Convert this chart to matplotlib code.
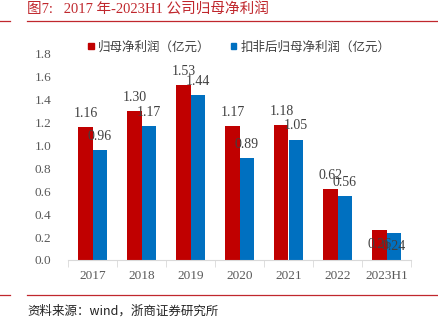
import matplotlib
matplotlib.use("Agg")
import matplotlib.pyplot as plt
from matplotlib.lines import Line2D
from matplotlib.patches import Patch

categories = ["2017", "2018", "2019", "2020", "2021", "2022", "2023H1"]
net_profit = [1.16, 1.30, 1.53, 1.17, 1.18, 0.62, 0.26]
net_profit_ex = [0.96, 1.17, 1.44, 0.89, 1.05, 0.56, 0.24]
series_names = ["归母净利润（亿元）", "扣非后归母净利润（亿元）"]
yticks = [0.0, 0.2, 0.4, 0.6, 0.8, 1.0, 1.2, 1.4, 1.6, 1.8]
title = "图7:   2017 年-2023H1 公司归母净利润"
source = "资料来源：wind，浙商证券研究所"

RED = "#C00000"
BLUE = "#0070C0"
LINE_RED = "#C0272D"
SERIF = ["Liberation Serif", "Noto Sans CJK SC"]
CJK = ["Noto Sans CJK SC", "DejaVu Sans"]

W, H = 438, 324
fig = plt.figure(figsize=(W / 100, H / 100), dpi=100)

def fx(px):
    return px / W

def fy(py):
    return 1 - py / H

# title and rules
fig.text(fx(27), fy(10), title, family=SERIF, fontsize=10.5, color=LINE_RED, va="center", ha="left")
for yy in (21, 295):
    fig.add_artist(Line2D([fx(0), fx(10)], [fy(yy), fy(yy)], color=LINE_RED, lw=0.9))
    fig.add_artist(Line2D([fx(27), fx(438)], [fy(yy), fy(yy)], color=LINE_RED, lw=0.9))
fig.text(fx(27), fy(311), source, family=CJK, fontsize=9, color="#222222", va="center", ha="left")

# axes
ax = fig.add_axes([fx(68), fy(260), fx(411) - fx(68), fy(54) - fy(260)])
n = len(categories)
x = list(range(n))
bw = 0.29
bars1 = ax.bar([i - bw / 2 for i in x], net_profit, width=bw, color=RED, zorder=2)
bars2 = ax.bar([i + bw / 2 for i in x], net_profit_ex, width=bw, color=BLUE, zorder=2)

for bars, vals in ((bars1, net_profit), (bars2, net_profit_ex)):
    for i, (b, v) in enumerate(zip(bars, vals)):
        off = -10 if i == n - 1 else 10
        ax.annotate(f"{v:.2f}", (b.get_x() + b.get_width() / 2, v), xytext=(0, off),
                    textcoords="offset points", ha="center", va="center",
                    family=SERIF, fontsize=10, color="#404040", zorder=3)

ax.set_xlim(-0.5, n - 0.5)
ax.set_ylim(0, 1.8)
ax.set_yticks(yticks)
ax.set_yticklabels([f"{t:.1f}" for t in yticks], family=SERIF, fontsize=9.5, color="#595959")
ax.tick_params(axis="y", length=0, pad=12)
ax.set_xticks(x)
ax.set_xticklabels(categories, family=SERIF, fontsize=9.5, color="#595959")
ax.set_xticks([i - 0.5 for i in range(n + 1)], minor=True)
ax.tick_params(axis="x", which="major", length=0, pad=7)
ax.tick_params(axis="x", which="minor", length=5, color="#D9D9D9", direction="out")
for s in ("top", "right", "left"):
    ax.spines[s].set_visible(False)
ax.spines["bottom"].set_color("#D9D9D9")

handles = [Patch(color=RED), Patch(color=BLUE)]
leg = fig.legend(handles, series_names, loc="center left", bbox_to_anchor=(fx(88), fy(47)),
                 ncol=2, frameon=False, borderpad=0, borderaxespad=0,
                 handlelength=0.45, handleheight=0.45,
                 handletextpad=0.35, columnspacing=1.6, prop={"family": CJK, "size": 9})
for t in leg.get_texts():
    t.set_color("#404040")

fig.savefig("out.png", dpi=100)
